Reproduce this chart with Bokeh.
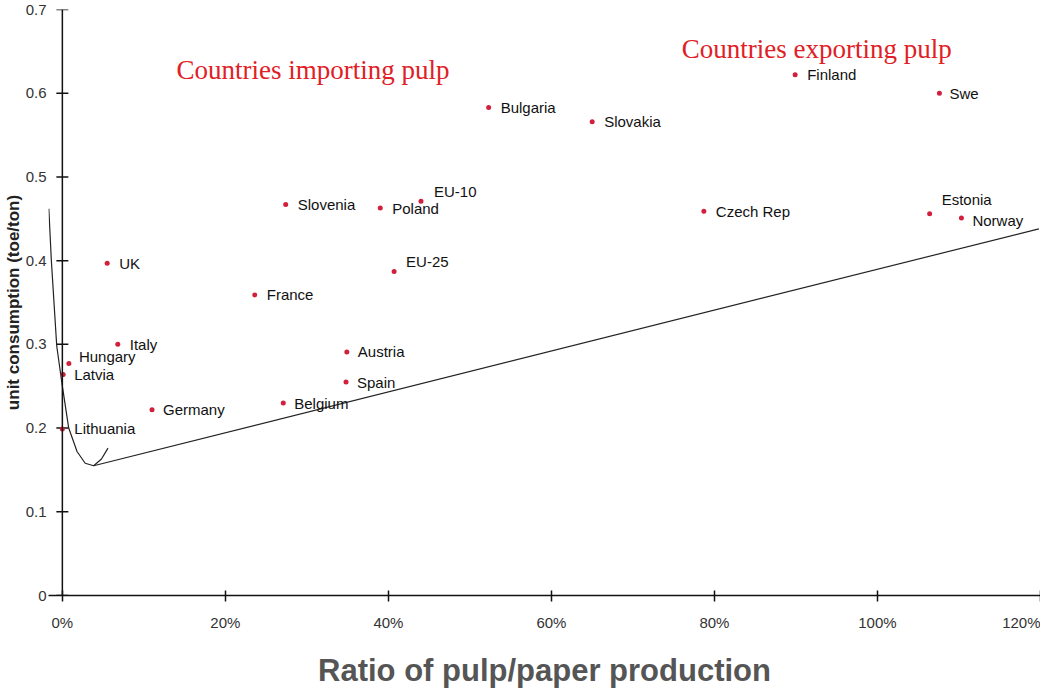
from bokeh.plotting import figure
from bokeh.models import ColumnDataSource, FixedTicker, Label, Range1d, Span
from bokeh.core.properties import value
from bokeh.embed import file_html
from bokeh.resources import INLINE

# ---- data ----
countries = ["Finland", "Swe", "Bulgaria", "Slovakia", "EU-10", "Slovenia", "Poland",
             "Czech Rep", "Estonia", "Norway", "UK", "EU-25", "France", "Italy",
             "Hungary", "Latvia", "Austria", "Spain", "Germany", "Belgium", "Lithuania"]
pulp_ratio = [89.9, 107.6, 52.3, 65.0, 44.0, 27.4, 39.0,
              78.7, 106.4, 110.3, 5.5, 40.7, 23.6, 6.8,
              0.8, 0.1, 34.9, 34.8, 11.0, 27.1, 0.0]
unit_consumption = [0.622, 0.600, 0.583, 0.566, 0.471, 0.467, 0.463,
                    0.459, 0.456, 0.451, 0.397, 0.387, 0.359, 0.300,
                    0.277, 0.264, 0.291, 0.255, 0.222, 0.230, 0.199]

# hand-drawn curve and trend line
curve_x = [-1.66, -1.35, -0.69, 0.0, 0.78, 1.8, 2.8, 3.84, 4.8, 5.6]
curve_y = [0.462, 0.400, 0.298, 0.250, 0.200, 0.172, 0.158, 0.155, 0.163, 0.176]
trend_x = [3.84, 119.8]
trend_y = [0.155, 0.438]

x_ticks = [0, 20, 40, 60, 80, 100, 120]
x_tick_labels = ["0%", "20%", "40%", "60%", "80%", "100%", "120%"]
y_ticks = [0, 0.1, 0.2, 0.3, 0.4, 0.5, 0.6, 0.7]
y_tick_labels = ["0", "0.1", "0.2", "0.3", "0.4", "0.5", "0.6", "0.7"]
y_axis_at = 0

x_title = "Ratio of pulp/paper production"
y_title = "unit consumption (toe/ton)"
note_import = "Countries importing pulp"
note_export = "Countries exporting pulp"

# label placement (styling, pixels)
label_dx = [12, 10, 12, 12, 13, 12, 12, 12, 12, 11, 12, 12, 12, 12, 10, 11, 11, 11, 11, 11, 12]
label_dy = [0, 0, 0, 0, -10, 0, 1, 0, -14, 3, 0, -10, 0, 0, -7, 0, 0, 0, 0, 1, 0]

src = ColumnDataSource(dict(x=pulp_ratio, y=unit_consumption, name=countries,
                            dx=label_dx, dy=label_dy))
tick_src = ColumnDataSource(dict(x=[y_axis_at] * len(y_ticks), y=y_ticks))

p = figure(width=1040, height=690, output_backend="svg", toolbar_location=None,
           x_range=Range1d(-1.7, 120), y_range=Range1d(0, 0.7),
           min_border_left=48, min_border_right=0, min_border_top=9, min_border_bottom=92)
p.xgrid.visible = False
p.ygrid.visible = False
p.outline_line_color = None
p.background_fill_color = "white"
p.border_fill_color = "white"

for ax in (p.xaxis[0], p.yaxis[0]):
    ax.minor_tick_line_color = None
    ax.major_label_text_font = "Liberation Sans"
    ax.major_label_text_font_size = "15px"
    ax.major_label_text_color = "#333333"

# x axis
p.xaxis.axis_line_color = "#111111"
p.xaxis.axis_line_width = 1.5
p.xaxis.major_tick_line_color = "#111111"
p.xaxis.major_tick_line_width = 1.5
p.xaxis.ticker = FixedTicker(ticks=x_ticks)
p.xaxis.major_label_overrides = dict(zip(x_ticks, x_tick_labels))
p.xaxis.major_tick_in = 5
p.xaxis.major_tick_out = 6
p.xaxis.major_label_standoff = 12
p.xaxis.axis_label = x_title
p.xaxis.axis_label_text_font = "Liberation Sans"
p.xaxis.axis_label_text_font_size = "31px"
p.xaxis.axis_label_text_font_style = "bold"
p.xaxis.axis_label_text_color = "#555555"
p.xaxis.axis_label_standoff = 19

# y axis: labels in the side panel, line and ticks drawn at x = 0
p.yaxis.ticker = FixedTicker(ticks=y_ticks)
p.yaxis.major_label_overrides = dict(zip(y_ticks, y_tick_labels))
p.yaxis.axis_line_color = None
p.yaxis.major_tick_line_color = None
p.yaxis.major_tick_in = 0
p.yaxis.major_tick_out = 0
p.yaxis.major_label_standoff = 2
p.yaxis.axis_label = y_title
p.yaxis.axis_label_text_font = "Liberation Sans"
p.yaxis.axis_label_text_font_size = "17px"
p.yaxis.axis_label_text_font_style = "bold"
p.yaxis.axis_label_text_color = "#222222"
p.yaxis.axis_label_standoff = 0

p.add_layout(Span(location=y_axis_at, dimension="height", line_color="#111111", line_width=1.5))
p.scatter("x", "y", source=tick_src, marker="dash", size=12,
          line_color="#111111", line_width=1.5)

p.line(curve_x, curve_y, line_color="#222222", line_width=1.2)
p.line(trend_x, trend_y, line_color="#222222", line_width=1.2)

p.scatter("x", "y", source=src, size=5, fill_color="#d21f3c", line_color=None)
p.text("x", "y", text="name", source=src, x_offset="dx", y_offset="dy",
       text_font=value("Liberation Sans"), text_font_size="15px",
       text_color="#111111", text_align="left", text_baseline="middle")

p.add_layout(Label(x=14.0, y=0.628, text=note_import, text_font="Liberation Serif",
                   text_font_size="27px", text_color="#e02025",
                   text_align="left", text_baseline="alphabetic"))
p.add_layout(Label(x=76.0, y=0.653, text=note_export, text_font="Liberation Serif",
                   text_font_size="27px", text_color="#e02025",
                   text_align="left", text_baseline="alphabetic"))

open("out.html", "w").write(file_html(p, INLINE))
